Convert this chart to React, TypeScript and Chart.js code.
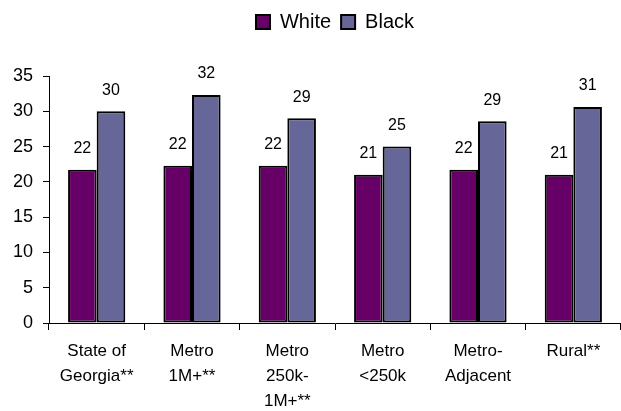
import { useEffect, useRef } from 'react';
import { Chart, registerables } from 'chart.js';

Chart.register(...registerables);

const categories: string[][] = [
  ['State of', 'Georgia**'],
  ['Metro', '1M+**'],
  ['Metro', '250k-', '1M+**'],
  ['Metro', '<250k'],
  ['Metro-', 'Adjacent'],
  ['Rural**'],
];
const whiteValues = [21.7, 22.3, 22.3, 21.0, 21.7, 21.0];
const blackValues = [30.0, 32.3, 29.0, 25.0, 28.6, 30.6];
const seriesNames = ['White', 'Black'];
const yMin = 0;
const yMax = 35;
const yStep = 5;

const FONT = '"Liberation Sans", Arial, sans-serif';

const valueLabels = {
  id: 'valueLabels',
  afterDatasetsDraw(chart: any) {
    const ctx = chart.ctx;
    ctx.save();
    ctx.font = `16px ${FONT}`;
    ctx.fillStyle = '#000';
    ctx.textAlign = 'center';
    ctx.textBaseline = 'middle';
    chart.data.datasets.forEach((ds: any, i: number) => {
      const meta = chart.getDatasetMeta(i);
      meta.data.forEach((el: any, j: number) => {
        ctx.fillText(String(Math.round(ds.data[j])), el.x, el.y - 21);
      });
    });
    ctx.restore();
  },
};

export default function App() {
  const ref = useRef<HTMLCanvasElement>(null);
  useEffect(() => {
    if (!ref.current) return;
    const chart = new Chart(ref.current, {
      type: 'bar',
      data: {
        labels: categories,
        datasets: [
          {
            label: seriesNames[0],
            data: whiteValues,
            backgroundColor: '#660066',
            borderColor: '#000',
            borderWidth: 2,
            borderSkipped: false,
            categoryPercentage: 0.6,
            barPercentage: 1.0,
          },
          {
            label: seriesNames[1],
            data: blackValues,
            backgroundColor: '#666699',
            borderColor: '#000',
            borderWidth: 2,
            borderSkipped: false,
            categoryPercentage: 0.6,
            barPercentage: 1.0,
          },
        ],
      },
      options: {
        responsive: false,
        animation: false,
        layout: { padding: { left: 0, right: 0, top: 2, bottom: 0 } },
        plugins: {
          legend: {
            position: 'top',
            fullSize: false,
            labels: {
              boxWidth: 14,
              boxHeight: 14,
              padding: 10,
              color: '#000',
              font: { family: FONT, size: 20 },
            },
          },
          title: {
            display: true,
            text: '',
            position: 'top',
            weight: 500,
            fullSize: false,
            font: { size: 1, lineHeight: 1 },
            padding: { top: 0, bottom: 33 },
          },
          tooltip: { enabled: false },
        },
        scales: {
          x: {
            offset: true,
            grid: {
              display: true,
              offset: true,
              drawOnChartArea: false,
              drawTicks: true,
              tickLength: 7,
              color: '#000',
            },
            border: { display: true, color: '#000', width: 1 },
            ticks: {
              autoSkip: false,
              maxRotation: 0,
              minRotation: 0,
              padding: 9,
              color: '#000',
              font: { family: FONT, size: 17, lineHeight: 1.47 },
            },
            afterFit: (scale: any) => {
              scale.height = 88;
            },
          },
          y: {
            min: yMin,
            max: yMax,
            grid: {
              display: true,
              drawOnChartArea: false,
              drawTicks: true,
              tickLength: 6,
              color: '#000',
            },
            border: { display: true, color: '#000', width: 1 },
            ticks: {
              stepSize: yStep,
              padding: 10,
              color: '#000',
              font: { family: FONT, size: 18 },
            },
            afterFit: (scale: any) => {
              scale.width = 49;
            },
          },
        },
      },
      plugins: [valueLabels],
    } as any);
    return () => chart.destroy();
  }, []);
  return (
    <canvas
      ref={ref}
      width={621}
      height={411}
      style={{ position: 'absolute', left: 0, top: 0, display: 'block', background: '#fff' }}
    />
  );
}
